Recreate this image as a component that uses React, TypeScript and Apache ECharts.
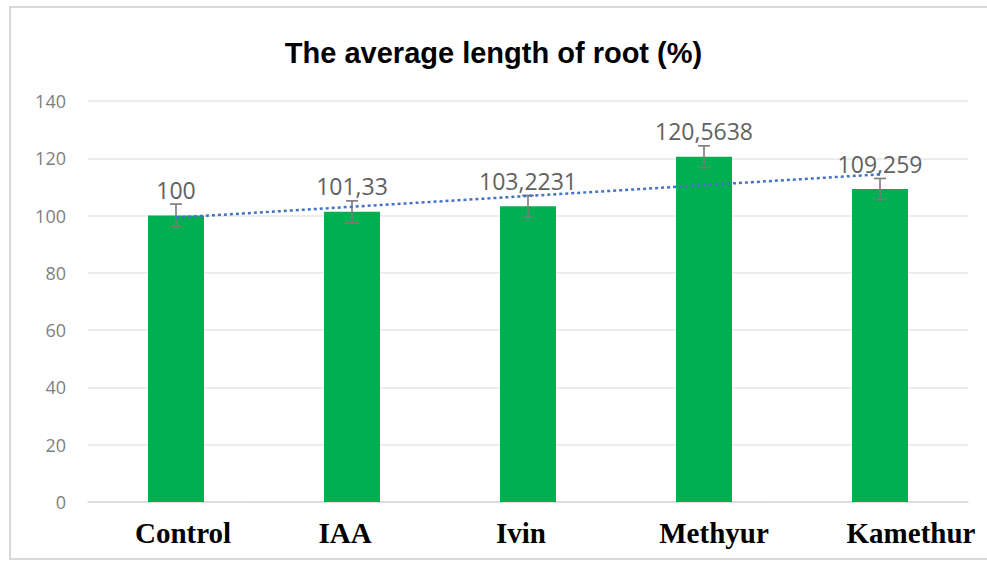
import React, { useEffect, useRef } from "react";
import * as echarts from "echarts";

const categories = ["Control", "IAA", "Ivin", "Methyur", "Kamethur"];
const values = [100, 101.33, 103.2231, 120.5638, 109.259];
const valueLabels = ["100", "101,33", "103,2231", "120,5638", "109,259"];
const errors = [4, 3.8, 3.8, 3.8, 3.7];
const trendValues = [99.3, null, null, null, 114.4];
const yTicks = { min: 0, max: 140, interval: 20 };
const titleText = "The average length of root (%)";
// horizontal shift of each category label (px), as seen in the reference
const labelShift = [7, -7, -7, 10, 31];

export default function App() {
  const ref = useRef<HTMLDivElement>(null);
  useEffect(() => {
    if (!ref.current) return;
    const chart = echarts.init(ref.current, null, { renderer: "svg" });
    const rich: any = {};
    categories.forEach((c, i) => {
      const s = labelShift[i];
      rich["c" + i] = {
        fontFamily: "Liberation Serif",
        fontWeight: "bold",
        fontSize: 29,
        color: "#000000",
        padding: s >= 0 ? [0, 0, 0, 2 * s] : [0, -2 * s, 0, 0],
      };
    });
    const option: any = {
      animation: false,
      backgroundColor: "#ffffff",
      title: {
        text: titleText,
        left: "center",
        top: 33,
        textStyle: {
          fontFamily: "Liberation Sans",
          fontWeight: "bold",
          fontSize: 29,
          color: "#000000",
        },
      },
      graphic: [
        {
          type: "rect",
          shape: { x: 10, y: 7, width: 990, height: 552 },
          style: { fill: "none", stroke: "#d9d9d9", lineWidth: 2 },
          silent: true,
        },
      ],
      grid: { left: 88, right: 19, top: 101, bottom: 59 },
      xAxis: {
        type: "category",
        data: categories,
        axisLine: { show: true, lineStyle: { color: "#d9d9d9", width: 1.5 } },
        axisTick: { show: false },
        axisLabel: {
          interval: 0,
          margin: 16,
          formatter: (v: string) => {
            const i = categories.indexOf(v);
            return "{c" + i + "|" + v + "}";
          },
          rich,
        },
      },
      yAxis: {
        type: "value",
        min: yTicks.min,
        max: yTicks.max,
        interval: yTicks.interval,
        axisLine: { show: false },
        axisTick: { show: false },
        splitLine: { lineStyle: { color: "#e6e6e6", width: 1.5 } },
        axisLabel: {
          margin: 22,
          fontFamily: "Open Sans",
          fontSize: 18,
          color: "#7f7f7f",
        },
      },
      series: [
        {
          type: "bar",
          data: values,
          barWidth: 56,
          itemStyle: { color: "#00b050" },
          label: {
            show: true,
            position: "top",
            distance: 14,
            fontFamily: "Open Sans",
            fontSize: 23,
            color: "#616161",
            formatter: (p: any) => valueLabels[p.dataIndex],
          },
          z: 2,
        },
        {
          type: "custom",
          data: values.map((v, i) => [i, v - errors[i], v + errors[i]]),
          renderItem: (params: any, api: any) => {
            const x = api.value(0);
            const lo = api.coord([x, api.value(1)]);
            const hi = api.coord([x, api.value(2)]);
            const cap = 6;
            const style = { stroke: "#7a7a7a", lineWidth: 1.6, fill: "none" };
            return {
              type: "group",
              children: [
                { type: "line", shape: { x1: hi[0], y1: hi[1], x2: lo[0], y2: lo[1] }, style },
                { type: "line", shape: { x1: hi[0] - cap, y1: hi[1], x2: hi[0] + cap, y2: hi[1] }, style },
                { type: "line", shape: { x1: lo[0] - cap, y1: lo[1], x2: lo[0] + cap, y2: lo[1] }, style },
              ],
            };
          },
          z: 3,
        },
        {
          type: "line",
          data: trendValues,
          connectNulls: true,
          symbol: "none",
          lineStyle: { color: "#4472c4", width: 2.5, type: [3, 3] },
          z: 4,
        },
      ],
    };
    chart.setOption(option);
    return () => chart.dispose();
  }, []);
  return (
    <div
      ref={ref}
      style={{ position: "fixed", left: 0, top: 0, width: 987, height: 561 }}
    />
  );
}
